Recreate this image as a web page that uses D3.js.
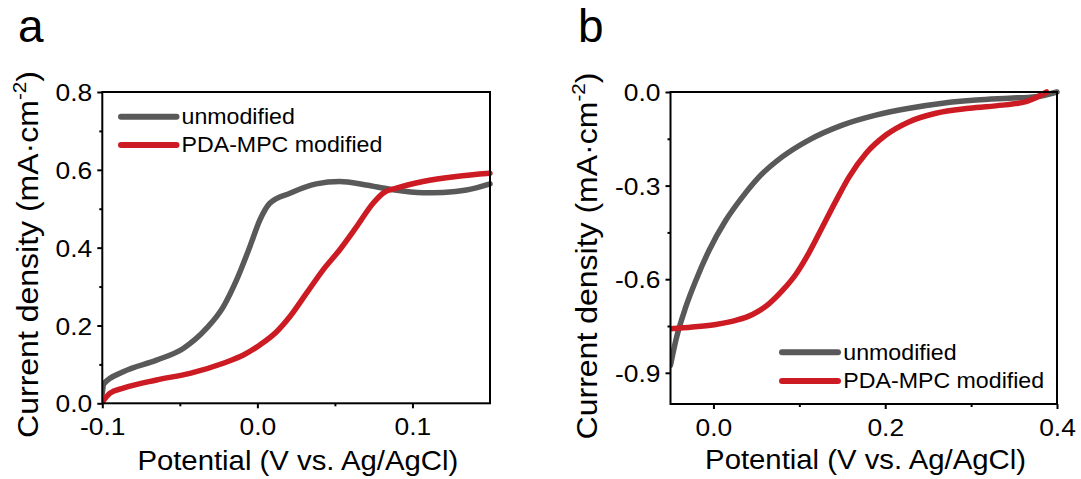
<!DOCTYPE html>
<html><head><meta charset="utf-8">
<script src="https://cdn.jsdelivr.net/npm/d3@7"></script>
<style>
html,body{margin:0;padding:0;background:#fff;}
svg{display:block;font-family:"Liberation Sans",Arial,sans-serif;}
</style></head>
<body>
<svg id="chart" width="1081" height="479"></svg>
<script>
// ---------- data ----------
const seriesNames = ["unmodified", "PDA-MPC modified"];
// Panel a
const aGrayPotential = [-0.1, -0.099, -0.0865, -0.065, -0.0478, -0.0327, -0.022, -0.0134, -0.0048, 0.0016, 0.008, 0.021, 0.038, 0.053, 0.070, 0.0854, 0.1068, 0.1197, 0.1348, 0.15];
const aGrayCurrent   = [0.025, 0.05, 0.081, 0.111, 0.141, 0.193, 0.248, 0.317, 0.403, 0.471, 0.514, 0.540, 0.564, 0.570, 0.561, 0.550, 0.541, 0.542, 0.548, 0.564];
const aRedPotential  = [-0.1, -0.095, -0.0865, -0.065, -0.0435, -0.022, -0.009, 0.0016, 0.0124, 0.021, 0.0317, 0.0424, 0.053, 0.064, 0.0746, 0.081, 0.0897, 0.1068, 0.1283, 0.15];
const aRedCurrent    = [0.003, 0.026, 0.039, 0.060, 0.077, 0.103, 0.124, 0.150, 0.184, 0.223, 0.283, 0.343, 0.394, 0.454, 0.514, 0.540, 0.553, 0.570, 0.583, 0.591];
// Panel b
const bGrayPotential = [-0.05, -0.0438, -0.0322, -0.0205, -0.005, 0.0144, 0.0338, 0.0532, 0.080, 0.111, 0.150, 0.189, 0.228, 0.267, 0.306, 0.344, 0.3755, 0.4];
const bGrayCurrent   = [-0.876, -0.796, -0.689, -0.604, -0.507, -0.411, -0.336, -0.272, -0.208, -0.154, -0.106, -0.074, -0.052, -0.036, -0.026, -0.020, -0.015, 0.0];
const bRedPotential  = [-0.05, -0.0245, 0.0028, 0.026, 0.0454, 0.0649, 0.0804, 0.096, 0.1115, 0.127, 0.1426, 0.158, 0.1775, 0.2008, 0.228, 0.259, 0.298, 0.3366, 0.364, 0.3794, 0.388];
const bRedCurrent    = [-0.759, -0.753, -0.745, -0.732, -0.713, -0.678, -0.636, -0.584, -0.514, -0.432, -0.349, -0.272, -0.197, -0.138, -0.095, -0.068, -0.052, -0.042, -0.031, -0.013, 0.0];
// ticks
const aXTicks = [-0.1, 0.0, 0.1];
const aXTickLabels = ["-0.1", "0.0", "0.1"];
const aXMinor = [-0.05, 0.05];
const aYTicks = [0.0, 0.2, 0.4, 0.6, 0.8];
const aYTickLabels = ["0.0", "0.2", "0.4", "0.6", "0.8"];
const aYMinor = [0.1, 0.3, 0.5, 0.7];
const bXTicks = [0.0, 0.2, 0.4];
const bXTickLabels = ["0.0", "0.2", "0.4"];
const bXMinor = [0.1, 0.3];
const bYTicks = [0.0, -0.3, -0.6, -0.9];
const bYTickLabels = ["0.0", "-0.3", "-0.6", "-0.9"];
const bYMinor = [-0.15, -0.45, -0.75];

const xTitle = "Potential (V vs. Ag/AgCl)";
const GRAY = "#595959", RED = "#cd1b23";

const svg = d3.select("#chart");

function zip(xs, ys){ return xs.map((x,i)=>[x, ys[i]]); }

function scaleTextTo(sel, targetW){
  const w = sel.node().getBBox().width;
  return targetW / w;
}

function panel(cfg){
  const {L,R,T,B,xDom,yDom} = cfg;
  const x = d3.scaleLinear().domain(xDom).range([L,R]);
  const y = d3.scaleLinear().domain(yDom).range([B,T]);
  const g = svg.append("g");
  const clipId = "clip"+cfg.id;
  svg.append("clipPath").attr("id",clipId).append("rect")
     .attr("x",L).attr("y",T-3).attr("width",R-L+3).attr("height",B-T+3);

  // minor ticks
  g.append("g").attr("transform",`translate(0,${B})`)
    .call(d3.axisBottom(x).tickValues(cfg.xMinor).tickSize(3).tickFormat(""))
    .call(s=>{s.select(".domain").remove(); s.selectAll("line").attr("stroke","#000").attr("stroke-width",2);});
  g.append("g").attr("transform",`translate(${L},0)`)
    .call(d3.axisLeft(y).tickValues(cfg.yMinor).tickSize(3).tickFormat(""))
    .call(s=>{s.select(".domain").remove(); s.selectAll("line").attr("stroke","#000").attr("stroke-width",2);});

  // major axes
  g.append("g").attr("transform",`translate(0,${B})`)
    .call(d3.axisBottom(x).tickValues(cfg.xTicks).tickSize(5).tickFormat((d,i)=>cfg.xLabels[i]))
    .call(s=>{
      s.select(".domain").remove();
      s.selectAll("line").attr("stroke","#000").attr("stroke-width",2);
      s.selectAll("text").attr("fill","#000").attr("font-size",24)
        .attr("font-family","Liberation Sans, Arial, sans-serif")
        .attr("y",0).attr("dy",0).attr("text-anchor","middle")
        .attr("transform","translate(0,31.5) scale(1.1,1)");
    });
  g.append("g").attr("transform",`translate(${L},0)`)
    .call(d3.axisLeft(y).tickValues(cfg.yTicks).tickSize(5).tickFormat((d,i)=>cfg.yLabels[i]))
    .call(s=>{
      s.select(".domain").remove();
      s.selectAll("line").attr("stroke","#000").attr("stroke-width",2);
      s.selectAll("text").attr("fill","#000").attr("font-size",24)
        .attr("font-family","Liberation Sans, Arial, sans-serif")
        .attr("x",0).attr("dy","0.36em").attr("text-anchor","end")
        .attr("transform","translate(-10,0) scale(1.1,1)");
    });

  // curves
  const line = d3.line().x(d=>x(d[0])).y(d=>y(d[1])).curve(d3.curveMonotoneX);
  const cg = g.append("g").attr("clip-path",`url(#${clipId})`);
  cfg.series.forEach(s=>{
    cg.append("path").datum(s.data).attr("d",line)
      .attr("fill","none").attr("stroke",s.color).attr("stroke-width",5.5)
      .attr("stroke-linejoin","round").attr("stroke-linecap","round");
  });

  // frame
  g.append("rect").attr("x",L).attr("y",T).attr("width",R-L).attr("height",B-T)
    .attr("fill","none").attr("stroke","#000").attr("stroke-width",2);

  // legend
  const legTexts = [];
  cfg.series.forEach((s,i)=>{
    const ly = cfg.legY[i];
    g.append("line").attr("x1",cfg.legX1).attr("x2",cfg.legX2).attr("y1",ly).attr("y2",ly)
      .attr("stroke",s.color).attr("stroke-width",6).attr("stroke-linecap","round");
    const t = g.append("text").attr("font-size",22.5).attr("fill","#000").text(s.name);
    legTexts.push([t, ly]);
  });
  const ls = scaleTextTo(legTexts[1][0], 201);
  legTexts.forEach(([t,ly])=>t.attr("transform",`translate(${cfg.legTX},${ly+7.2}) scale(${ls},1)`));

  // x title
  const xt = g.append("text").attr("font-size",27.5).attr("fill","#000").attr("text-anchor","middle")
    .text(xTitle);
  const sx = scaleTextTo(xt, 321);
  xt.attr("transform",`translate(${cfg.xTitleX},${cfg.xTitleY}) scale(${sx},1)`);

  // y title
  const yt = g.append("text").attr("font-size",29.5).attr("fill","#000").attr("text-anchor","middle");
  yt.append("tspan").text("Current density (mA\u00B7cm");
  yt.append("tspan").attr("font-size",19).attr("dy",-12).text("-2");
  yt.append("tspan").attr("dy",12).text(")");
  const sy = scaleTextTo(yt, 367);
  yt.attr("transform",`translate(${cfg.yTitleX},${cfg.yTitleY}) rotate(-90) scale(${sy},1)`);

  // panel letter
  svg.append("text").attr("x",cfg.letterX).attr("y",42).attr("font-size",46).attr("fill","#000").text(cfg.letter);
}

panel({
  id:"a", letter:"a", letterX:18,
  L:102.3, R:490, T:92, B:403.3, xDom:[-0.1,0.15], yDom:[0,0.8],
  xTicks:aXTicks, xLabels:aXTickLabels, xMinor:aXMinor,
  yTicks:aYTicks, yLabels:aYTickLabels, yMinor:aYMinor,
  series:[{name:seriesNames[0], color:GRAY, data:zip(aGrayPotential,aGrayCurrent)},
          {name:seriesNames[1], color:RED, data:zip(aRedPotential,aRedCurrent)}],
  legX1:121, legX2:176.5, legY:[116.7,145], legTX:181.5,
  xTitleX:297.8, xTitleY:469.5, yTitleX:38, yTitleY:254.5
});
panel({
  id:"b", letter:"b", letterX:578,
  L:670.5, R:1057, T:92, B:404, xDom:[-0.05,0.4], yDom:[-1.0,0],
  xTicks:bXTicks, xLabels:bXTickLabels, xMinor:bXMinor,
  yTicks:bYTicks, yLabels:bYTickLabels, yMinor:bYMinor,
  series:[{name:seriesNames[0], color:GRAY, data:zip(bGrayPotential,bGrayCurrent)},
          {name:seriesNames[1], color:RED, data:zip(bRedPotential,bRedCurrent)}],
  legX1:782, legX2:838, legY:[352.3,381], legTX:843.3,
  xTitleX:865.5, xTitleY:469, yTitleX:597, yTitleY:256
});
</script>
</body></html>
